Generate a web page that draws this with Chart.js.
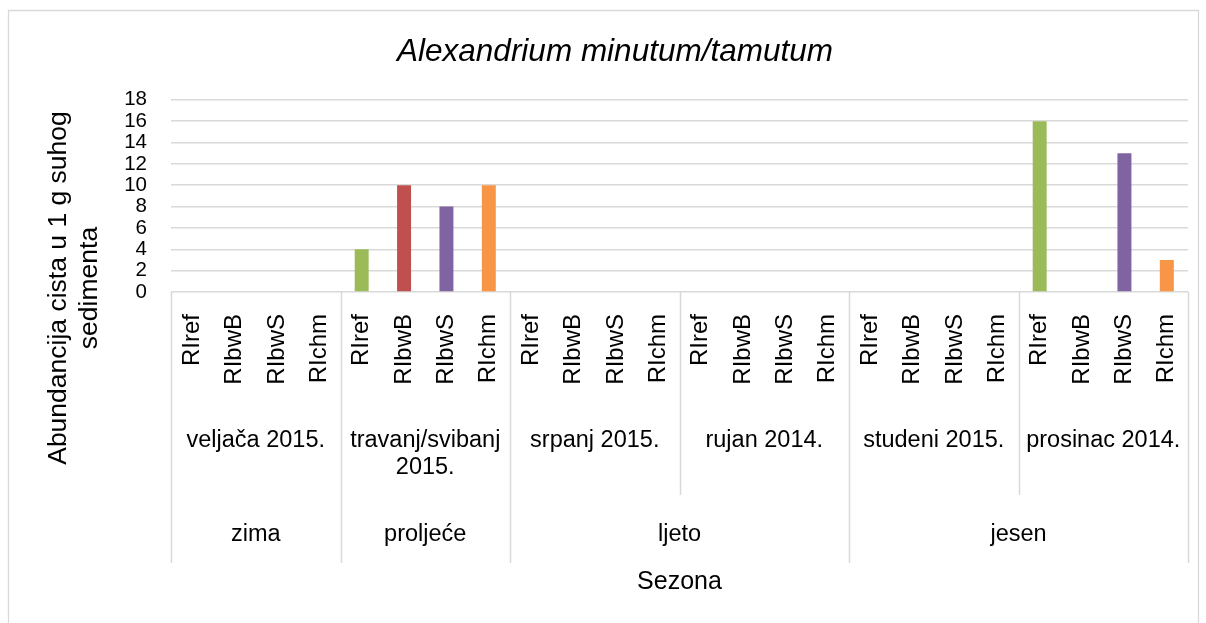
<!DOCTYPE html>
<html>
<head>
<meta charset="utf-8">
<script src="https://cdn.jsdelivr.net/npm/chart.js@4.4.1/dist/chart.umd.min.js"></script>
<style>
  html, body { margin: 0; padding: 0; background: #ffffff; }
  #wrap { width: 1206px; height: 623px; position: relative; }
</style>
</head>
<body>
<div id="wrap"><canvas id="c" width="1206" height="623"></canvas></div>
<script>
// ---- data ----
const sites = ['RIref', 'RIbwB', 'RIbwS', 'RIchm'];
const siteColors = ['#9BBB59', '#C0504D', '#8064A2', '#F79646'];
const months = [['veljača 2015.'], ['travanj/svibanj', '2015.'], ['srpanj 2015.'], ['rujan 2014.'], ['studeni 2015.'], ['prosinac 2014.']];
const seasons = ['zima', 'proljeće', 'ljeto', 'jesen'];
const seasonMonthCounts = [1, 1, 2, 2];
const abundance = [
  0, 0, 0, 0,
  4, 10, 8, 10,
  0, 0, 0, 0,
  0, 0, 0, 0,
  0, 0, 0, 0,
  16, 0, 13, 3
];
const yTicks = [0, 2, 4, 6, 8, 10, 12, 14, 16, 18];
const chartTitle = 'Alexandrium minutum/tamutum';
const yTitle = ['Abundancija cista u 1 g suhog', 'sedimenta'];
const xTitle = 'Sezona';

const labels = [];
const colors = [];
months.forEach(() => sites.forEach((s, i) => { labels.push(s); colors.push(siteColors[i]); }));

const FONT = '"Liberation Sans", Arial, sans-serif';
const GRID = '#d9d9d9';

const multiLevelAxis = {
  id: 'multiLevelAxis',
  beforeDraw(chart) {
    const ctx = chart.ctx;
    ctx.save();
    ctx.strokeStyle = GRID;
    ctx.lineWidth = 1.3;
    ctx.beginPath();
    ctx.moveTo(8.5, 640);
    ctx.lineTo(8.5, 10.5);
    ctx.lineTo(1198.5, 10.5);
    ctx.lineTo(1198.5, 640);
    ctx.stroke();
    ctx.restore();
  },
  afterDraw(chart) {
    const ctx = chart.ctx;
    const area = chart.chartArea;
    const n = labels.length;
    const cw = (area.right - area.left) / n;
    const edge = i => area.left + i * cw;
    const y0 = area.bottom;
    const yMonthEnd = 495;
    const ySeasonEnd = 563;
    ctx.save();
    ctx.strokeStyle = GRID;
    ctx.lineWidth = 1.5;
    const seasonEdges = [0];
    let acc = 0;
    seasonMonthCounts.forEach(c => { acc += c * sites.length; seasonEdges.push(acc); });
    for (let m = 0; m <= months.length; m++) {
      const idx = m * sites.length;
      const full = seasonEdges.includes(idx);
      const px = Math.round(edge(idx)) + 0.5;
      ctx.beginPath();
      ctx.moveTo(px, y0);
      ctx.lineTo(px, full ? ySeasonEnd : yMonthEnd);
      ctx.stroke();
    }
    ctx.fillStyle = '#000';
    ctx.font = '23.5px ' + FONT;
    ctx.textAlign = 'center';
    ctx.textBaseline = 'middle';
    months.forEach((lines, m) => {
      const cx = (edge(m * sites.length) + edge((m + 1) * sites.length)) / 2;
      lines.forEach((t, k) => ctx.fillText(t, cx, 441 + k * 27));
    });
    seasons.forEach((s, k) => {
      const a = seasonEdges[k], b = seasonEdges[k + 1];
      ctx.fillText(s, (edge(a) + edge(b)) / 2, 535);
    });
    ctx.font = '25px ' + FONT;
    ctx.fillText(xTitle, (area.left + area.right) / 2, 582);
    // y axis title (two lines, rotated)
    ctx.font = '26.5px ' + FONT;
    ctx.translate(74, 288);
    ctx.rotate(-Math.PI / 2);
    yTitle.forEach((t, k) => ctx.fillText(t, 0, (k - 0.5) * 31));
    ctx.restore();
  }
};

new Chart(document.getElementById('c'), {
  type: 'bar',
  data: {
    labels: labels,
    datasets: [{
      data: abundance,
      backgroundColor: colors,
      borderWidth: 0,
      categoryPercentage: 1.0,
      barPercentage: 0.33
    }]
  },
  options: {
    responsive: false,
    animation: false,
    devicePixelRatio: 1,
    layout: { padding: { left: 42, right: 18, top: 0, bottom: 0 } },
    plugins: {
      legend: { display: false },
      tooltip: { enabled: false },
      title: {
        display: true,
        text: chartTitle,
        color: '#000',
        font: { family: FONT, size: 31.5, style: 'italic', weight: 'normal', lineHeight: 1.2 },
        padding: { top: 33, bottom: 29 }
      }
    },
    scales: {
      x: {
        grid: { display: false, drawTicks: false },
        border: { display: false },
        ticks: {
          color: '#000',
          font: { family: FONT, size: 24 },
          minRotation: 90,
          maxRotation: 90,
          autoSkip: false,
          padding: 22
        },
        afterFit(scale) { scale.height = 331; scale.paddingLeft = 0; scale.paddingRight = 0; }
      },
      y: {
        min: 0,
        max: 18,
        afterBuildTicks(scale) { scale.ticks = yTicks.map(v => ({ value: v })); },
        grid: { color: GRID, lineWidth: 1.5, drawTicks: false },
        border: { display: false },
        ticks: {
          color: '#000',
          font: { family: FONT, size: 20.5 },
          padding: 24,
          autoSkip: false
        },
        afterFit(scale) { scale.width = 129; }
      }
    }
  },
  plugins: [multiLevelAxis]
});
</script>
</body>
</html>
